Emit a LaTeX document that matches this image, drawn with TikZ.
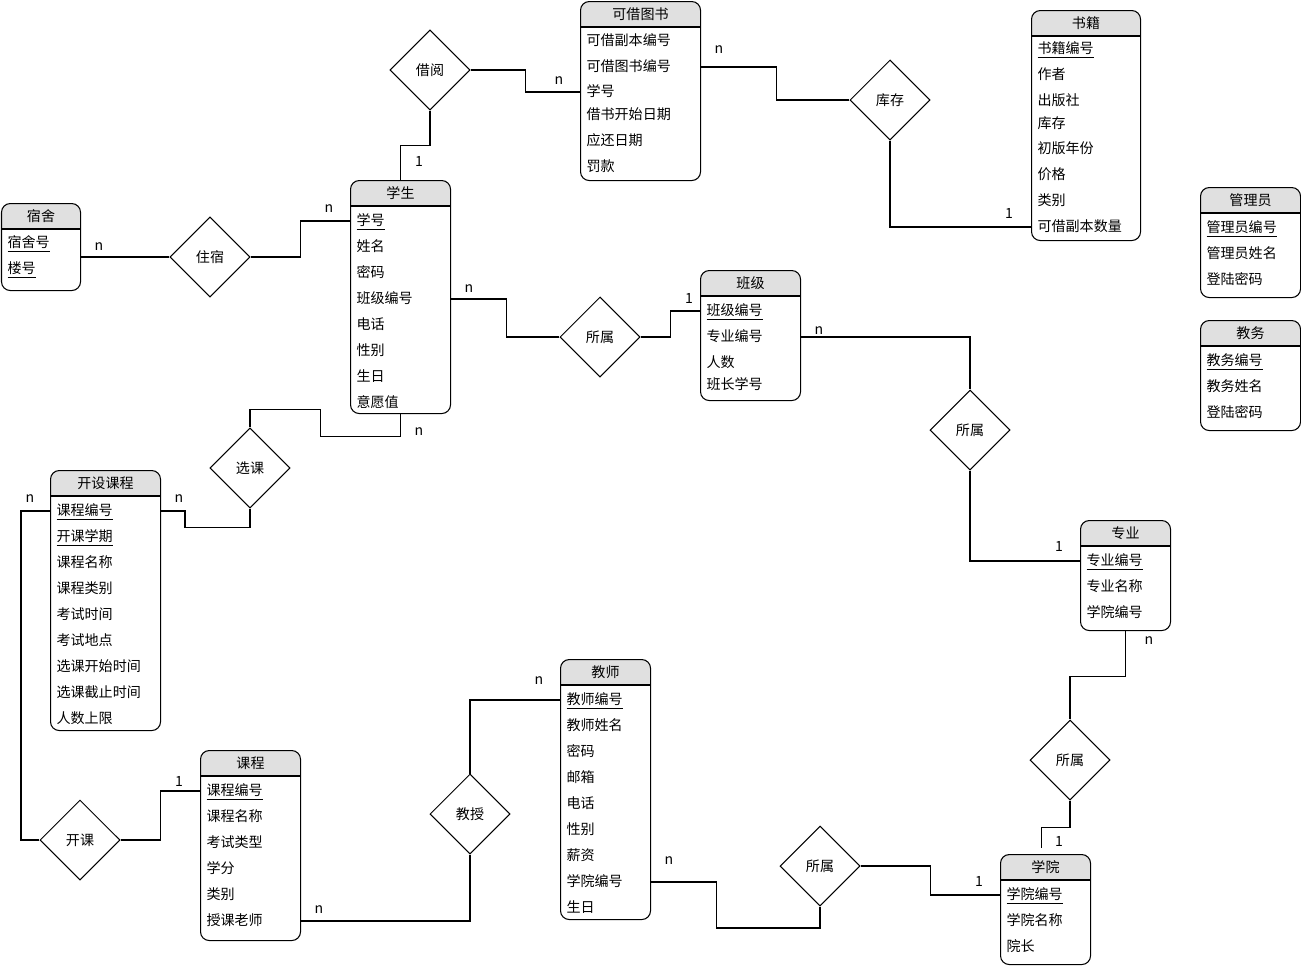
\documentclass[tikz,border=0pt]{standalone}
\usepackage{fontspec}
\setmainfont{Noto Sans CJK SC}
\usetikzlibrary{shapes.geometric, positioning}
\definecolor{hdrgray}{HTML}{E0E0E0}

\tikzset{
  rel/.style={draw, diamond, aspect=1, minimum size=1.6cm, inner sep=0pt},
  attr/.style={anchor=west, inner sep=0pt, text height=7pt, text depth=2pt},
  card/.style={inner sep=0pt},
}

% entity: name, left, top, width, height, title
\newcommand{\erent}[6]{%
  \begin{scope}
    \clip[rounded corners=5pt] (#2,#3) rectangle ++(#4,#5);
    \fill[hdrgray] (#2,#3) rectangle ++(#4,26);
  \end{scope}
  \node[draw, rounded corners=5pt, anchor=north west, inner sep=0pt,
        minimum width=#4*0.02cm, minimum height=#5*0.02cm] (#1) at (#2,#3) {};
  \draw ([yshift=-0.52cm]#1.north west) -- ([yshift=-0.52cm]#1.north east);
  \node (#1-t) at ([yshift=-0.26cm]#1.north) {#6};
}
% rows: name, left, list of y/text
\newcommand{\errows}[3]{%
  \foreach \ry/\rt [count=\k] in {#3}
    \node[attr] (#1-\k) at (#2+6,\ry) {\rt};
}

\begin{document}
\begin{tikzpicture}[x=0.02cm, y=-0.02cm, line width=0.6pt,
    font=\fontsize{8pt}{10pt}\selectfont]
  \useasboundingbox (0,0) rectangle (1301,965);

  % entities
  \erent{kjts}{580}{1}{120}{179}{可借图书}
  \errows{kjts}{580}{41/可借副本编号, 67/可借图书编号, 92/学号, 115/借书开始日期, 141/应还日期, 167/罚款}
  \erent{shuji}{1031}{10}{109}{230}{书籍}
  \errows{shuji}{1031}{49/\underline{书籍编号}, 75/作者, 101/出版社, 124/库存, 149/初版年份, 175/价格, 201/类别, 227/可借副本数量}
  \erent{guanli}{1200}{187}{100}{110}{管理员}
  \errows{guanli}{1200}{228/\underline{管理员编号}, 254/管理员姓名, 280/登陆密码}
  \erent{jiaowu}{1200}{320}{100}{110}{教务}
  \errows{jiaowu}{1200}{361/\underline{教务编号}, 387/教务姓名, 413/登陆密码}
  \erent{sushe}{1}{203}{79}{87}{宿舍}
  \errows{sushe}{1}{243/\underline{宿舍号}, 269/\underline{楼号}}
  \erent{xuesheng}{350}{180}{100}{233}{学生}
  \errows{xuesheng}{350}{221/\underline{学号}, 247/姓名, 273/密码, 299/班级编号, 325/电话, 351/性别, 377/生日, 403/意愿值}
  \erent{banji}{700}{270}{100}{130}{班级}
  \errows{banji}{700}{311/\underline{班级编号}, 337/专业编号, 363/人数, 385/班长学号}
  \erent{zhuanye}{1080}{520}{90}{110}{专业}
  \errows{zhuanye}{1080}{561/\underline{专业编号}, 587/专业名称, 613/学院编号}
  \erent{kskc}{50}{470}{110}{260}{开设课程}
  \errows{kskc}{50}{511/\underline{课程编号}, 537/\underline{开课学期}, 563/课程名称, 589/课程类别, 615/考试时间, 641/考试地点, 667/选课开始时间, 693/选课截止时间, 719/人数上限}
  \erent{kecheng}{200}{750}{100}{190}{课程}
  \errows{kecheng}{200}{791/\underline{课程编号}, 817/课程名称, 843/考试类型, 869/学分, 895/类别, 921/授课老师}
  \erent{jiaoshi}{560}{659}{90}{260}{教师}
  \errows{jiaoshi}{560}{700/\underline{教师编号}, 726/教师姓名, 752/密码, 778/邮箱, 804/电话, 830/性别, 856/薪资, 882/学院编号, 908/生日}
  \erent{xueyuan}{1000}{854}{90}{110}{学院}
  \errows{xueyuan}{1000}{895/\underline{学院编号}, 921/学院名称, 947/院长}

  % relationships
  \node[rel] (jieyue) at (430,70) {借阅};
  \node[rel] (kucun) at (890,100) {库存};
  \node[rel] (zhusu) at (210,257) {住宿};
  \node[rel] (suoshu1) at (600,337) {所属};
  \node[rel] (suoshu2) at (970,430) {所属};
  \node[rel] (xuanke) at (250,468) {选课};
  \node[rel] (kaike) at (80,840) {开课};
  \node[rel] (jiaoshou) at (470,814) {教授};
  \node[rel] (suoshu3) at (820,866) {所属};
  \node[rel] (suoshu4) at (1070,760) {所属};

  % connectors
  \draw (jieyue.east) -- ++(55,0) |- (kjts.west |- kjts-3);
  \draw (jieyue.south) -- ++(0,35) -| (xuesheng.north);
  \draw (kjts.east |- kjts-2) -- ++(75,0) |- (kucun.west);
  \draw (kucun.south) |- (shuji.west |- shuji-8);
  \draw (zhusu.west) -- (zhusu.west -| sushe.east);
  \draw (zhusu.east) -- ++(50,0) |- (xuesheng.west |- xuesheng-1);
  \draw (xuesheng.east |- xuesheng-4) -- ++(55,0) |- (suoshu1.west);
  \draw (suoshu1.east) -- ++(30,0) |- (banji.west |- banji-1);
  \draw (banji.east |- banji-2) -| (suoshu2.north);
  \draw (suoshu2.south) |- (zhuanye.west |- zhuanye-1);
  \draw (xuesheng.south) -- ++(0,22) -- ++(-80,0) -- ++(0,-27) -| (xuanke.north);
  \draw (xuanke.south) -- ++(0,19) -- ++(-65,0) |- (kskc.east |- kskc-1);
  \draw (kskc.west |- kskc-1) -- ++(-29,0) |- (kaike.west);
  \draw (kaike.east) -- ++(40,0) |- (kecheng.west |- kecheng-1);
  \draw (kecheng.east |- kecheng-6) -| (jiaoshou.south);
  \draw (jiaoshou.north) |- (jiaoshi.west |- jiaoshi-1);
  \draw (jiaoshi.east |- jiaoshi-8) -- ++(65,0) -- ++(0,46) -| (suoshu3.south);
  \draw (suoshu3.east) -- ++(70,0) |- (xueyuan.west |- xueyuan-1);
  \draw (zhuanye.south) -- ++(0,45) -| (suoshu4.north);
  \draw (suoshu4.south) -- ++(0,27) -| ([xshift=-0.08cm, yshift=0.12cm]xueyuan.north);

  % cardinalities
  \node[card] (c1) at (559,81) {n};
  \node[card] (c2) at (419,161) {1};
  \node[card] (c3) at (719,50) {n};
  \node[card] (c4) at (1009,213) {1};
  \node[card] (c5) at (99,247) {n};
  \node[card] (c6) at (329,209) {n};
  \node[card] (c7) at (469,289) {n};
  \node[card] (c8) at (689,298) {1};
  \node[card] (c9) at (819,331) {n};
  \node[card] (c10) at (1059,546) {1};
  \node[card] (c11) at (419,432) {n};
  \node[card] (c12) at (179,499) {n};
  \node[card] (c13) at (30,499) {n};
  \node[card] (c14) at (179,781) {1};
  \node[card] (c15) at (319,910) {n};
  \node[card] (c16) at (539,681) {n};
  \node[card] (c17) at (669,861) {n};
  \node[card] (c18) at (979,881) {1};
  \node[card] (c19) at (1149,641) {n};
  \node[card] (c20) at (1059,841) {1};
\end{tikzpicture}
\end{document}
